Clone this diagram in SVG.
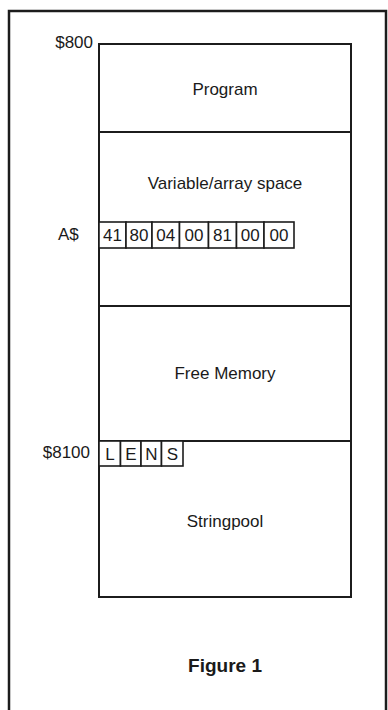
<svg xmlns="http://www.w3.org/2000/svg" width="388" height="710" viewBox="0 0 388 710">
<style>
.frame{fill:none;stroke:#1c1c1c;stroke-width:2.5}
.box{fill:#fff;stroke:#1c1c1c;stroke-width:2}
.cell{fill:#fff;stroke:#1c1c1c;stroke-width:1.6}
.lbl{font-family:"Liberation Sans",Arial,Helvetica,sans-serif;font-size:17px;fill:#1a1a1a}
.mid{text-anchor:middle}
.end{text-anchor:end}
.title{font-family:"Liberation Sans",Arial,Helvetica,sans-serif;font-size:19px;font-weight:bold;fill:#1a1a1a;text-anchor:middle}
</style>
<rect width="388" height="710" fill="#fff"/>
<rect class="frame" x="9" y="11" width="377" height="720"/>
<g id="program">
<rect class="box" x="99" y="44" width="252" height="88"/>
<text class="lbl mid" x="225" y="95">Program</text>
<text class="lbl end" x="93" y="48">$800</text>
</g>
<g id="variables">
<rect class="box" x="99" y="132" width="252" height="174"/>
<text class="lbl mid" x="225" y="189">Variable/array space</text>
</g>
<g id="free-memory">
<rect class="box" x="99" y="306" width="252" height="135"/>
<text class="lbl mid" x="225" y="379">Free Memory</text>
</g>
<g id="stringpool">
<rect class="box" x="99" y="441" width="252" height="156"/>
<text class="lbl mid" x="225" y="527">Stringpool</text>
<text class="lbl end" x="90" y="458">$8100</text>
</g>
<g id="a-string">
<text class="lbl" x="58" y="240">A$</text>
<rect class="cell" x="99" y="222" width="27" height="26"/>
<rect class="cell" x="126" y="222" width="26" height="26"/>
<rect class="cell" x="152" y="222" width="27.5" height="26"/>
<rect class="cell" x="179.5" y="222" width="29" height="26"/>
<rect class="cell" x="208.5" y="222" width="28" height="26"/>
<rect class="cell" x="236.5" y="222" width="27.5" height="26"/>
<rect class="cell" x="264" y="222" width="30" height="26"/>
<text class="lbl mid" x="112.5" y="241">41</text>
<text class="lbl mid" x="139" y="241">80</text>
<text class="lbl mid" x="165.7" y="241">04</text>
<text class="lbl mid" x="194" y="241">00</text>
<text class="lbl mid" x="222.5" y="241">81</text>
<text class="lbl mid" x="250.2" y="241">00</text>
<text class="lbl mid" x="279" y="241">00</text>
</g>
<g id="lens">
<rect class="cell" x="99" y="441" width="21.5" height="25"/>
<rect class="cell" x="120.5" y="441" width="20.5" height="25"/>
<rect class="cell" x="141" y="441" width="20.5" height="25"/>
<rect class="cell" x="161.5" y="441" width="21.5" height="25"/>
<text class="lbl mid" x="110" y="460">L</text>
<text class="lbl mid" x="130.8" y="460">E</text>
<text class="lbl mid" x="151.3" y="460">N</text>
<text class="lbl mid" x="172.3" y="460">S</text>
</g>
<g id="connectors"/>
<g id="caption">
<text class="title" x="225" y="672">Figure 1</text>
</g>
</svg>
